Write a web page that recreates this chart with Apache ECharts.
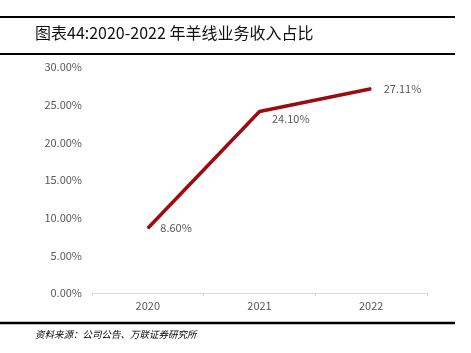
<!DOCTYPE html>
<html>
<head>
<meta charset="utf-8">
<script src="https://cdn.jsdelivr.net/npm/echarts@6/dist/echarts.min.js"></script>
<style>
  html, body { margin: 0; padding: 0; background: #fff; }
  #main { width: 471px; height: 353px; }
</style>
</head>
<body>
<div id="main"></div>
<script>
var years = ['2020', '2021', '2022'];
var shareValues = [8.60, 24.10, 27.11];
var yTicks = [0, 5, 10, 15, 20, 25, 30];

var titleText = '图表44:2020-2022 年羊线业务收入占比';
var sourceText = '资料来源：公司公告、万联证券研究所';

var chart = echarts.init(document.getElementById('main'));

// 2021 label sits a bit lower than the others
var seriesData = shareValues.map(function (v, i) {
    var item = { value: v };
    if (i === 1) {
        item.label = { offset: [0, 7] };
    }
    return item;
});

chart.setOption({
    animation: false,
    textStyle: { fontFamily: '"Noto Sans CJK SC", "Noto Sans", sans-serif' },
    grid: { left: 92, right: 44, top: 67, bottom: 60 },
    graphic: [
        { type: 'line', shape: { x1: 0, y1: 17, x2: 455, y2: 17 }, style: { stroke: '#000', lineWidth: 2 } },
        { type: 'line', shape: { x1: 0, y1: 54, x2: 455, y2: 54 }, style: { stroke: '#000', lineWidth: 2 } },
        { type: 'line', shape: { x1: 0, y1: 323, x2: 455, y2: 323 }, style: { stroke: '#000', lineWidth: 2.5 } },
        {
            type: 'text', left: 35, top: 25,
            style: { text: titleText, fill: '#111', font: '16px "Noto Sans CJK SC", sans-serif' }
        },
        {
            type: 'text', left: 35, top: 330,
            style: { text: sourceText, fill: '#000', font: 'italic 9.5px "Noto Sans CJK SC", sans-serif' }
        }
    ],
    xAxis: {
        type: 'category',
        data: years,
        boundaryGap: true,
        axisLine: { lineStyle: { color: '#d9d9d9', width: 1 } },
        axisTick: { show: true, length: 3, lineStyle: { color: '#d9d9d9' } },
        axisLabel: { color: '#595959', fontSize: 11, margin: 7 }
    },
    yAxis: {
        type: 'value',
        min: yTicks[0],
        max: yTicks[yTicks.length - 1],
        interval: yTicks[1] - yTicks[0],
        splitLine: { show: false },
        axisLine: { show: false },
        axisTick: { show: false },
        axisLabel: {
            color: '#595959', fontSize: 11, margin: 10,
            formatter: function (v) { return v.toFixed(2) + '%'; }
        }
    },
    series: [
        {
            type: 'line',
            data: seriesData,
            symbol: 'circle',
            symbolSize: 1,
            showSymbol: true,
            itemStyle: { color: '#9e0b0f' },
            lineStyle: { color: '#9e0b0f', width: 3.5 },
            label: {
                show: true,
                position: 'right',
                distance: 12,
                color: '#595959',
                fontSize: 11,
                formatter: function (p) { return p.value.toFixed(2) + '%'; }
            }
        }
    ]
});
</script>
</body>
</html>
